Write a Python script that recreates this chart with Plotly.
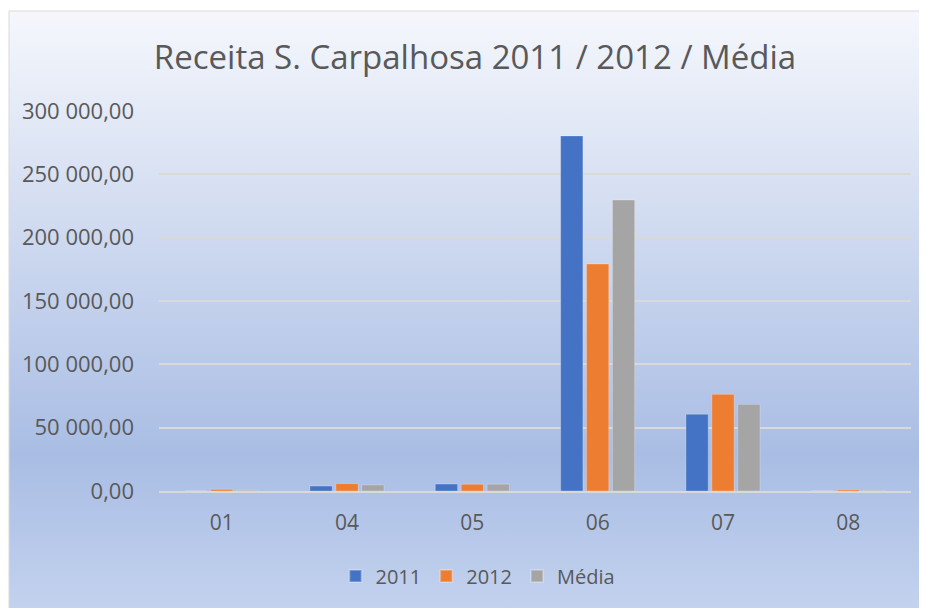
import base64
import plotly.graph_objects as go

# data
months = ["01", "04", "05", "06", "07", "08"]
receita_2011 = [0, 3900, 5500, 280300, 60600, 0]
receita_2012 = [1300, 5800, 5300, 179200, 76300, 1000]
receita_media = [650, 4850, 5400, 229700, 68400, 500]
y_ticks = [0, 50000, 100000, 150000, 200000, 250000, 300000]

colors = {'2011': '#4472C4', '2012': '#ED7D31', 'Média': '#A5A5A5'}
text_color = '#595959'
font_family = 'Open Sans, Liberation Sans, sans-serif'

# page has an 8px body margin, so the figure is shifted by 8px
W, H = 919, 600
left, right, top, bottom = 151, 16, 103, 117
plot_w = W - left - right
plot_h = H - top - bottom

# gradient background for the chart area (Excel-like)
svg = """<svg xmlns='http://www.w3.org/2000/svg' width='100' height='100' preserveAspectRatio='none'>
<defs><linearGradient id='g' x1='0' y1='0' x2='0' y2='1'>
<stop offset='0' stop-color='#f5f7fc'/>
<stop offset='0.74' stop-color='#a9bde4'/>
<stop offset='1' stop-color='#c3d2ee'/>
</linearGradient></defs>
<rect width='100' height='100' fill='url(#g)'/></svg>"""
bg_src = "data:image/svg+xml;base64," + base64.b64encode(svg.encode()).decode()

# frame in paper coords
fx0 = (1 - left) / plot_w
fx1 = (W + 3 - left) / plot_w
fy1 = (H - bottom - 3) / plot_h
fy0 = (H - bottom - (H + 3)) / plot_h

fig = go.Figure()
for name, vals in [('2011', receita_2011), ('2012', receita_2012), ('Média', receita_media)]:
    fig.add_trace(go.Bar(
        x=months, y=vals, name=name,
        marker=dict(color=colors[name], line=dict(color='rgba(255,255,255,0.25)', width=1)),
    ))

fig.add_layout_image(
    source=bg_src, xref='paper', yref='paper',
    x=fx0, y=fy1, sizex=fx1 - fx0, sizey=fy1 - fy0,
    xanchor='left', yanchor='top', sizing='stretch', layer='below'
)
fig.add_shape(type='rect', xref='paper', yref='paper',
              x0=fx0, x1=fx1, y0=fy0, y1=fy1,
              line=dict(color='#d9d9d9', width=1), layer='below')

fig.update_layout(
    width=W, height=H,
    margin=dict(l=left, r=right, t=top, b=bottom),
    paper_bgcolor='white', plot_bgcolor='rgba(0,0,0,0)',
    separators=', ',
    font=dict(family=font_family, color=text_color, size=22),
    title=dict(text='Receita S. Carpalhosa 2011 / 2012 / Média',
               x=(467 - left) / plot_w, xref='paper', xanchor='center',
               y=1 - 49 / H, yref='container', yanchor='middle',
               font=dict(size=33, color=text_color, family=font_family)),
    barmode='group', bargap=0.38, bargroupgap=0.14,
    legend=dict(orientation='h', x=(470 - left) / plot_w, xanchor='center',
                y=(H - bottom - 568) / plot_h, yanchor='middle',
                bgcolor='rgba(0,0,0,0)', font=dict(size=20, color=text_color),
                itemsizing='constant', itemwidth=30, traceorder='normal'),
    xaxis=dict(showgrid=False, showline=True, linecolor='#d9d9d9', linewidth=1.5,
               ticks='', ticklabelstandoff=12,
               tickfont=dict(size=21, color=text_color)),
    yaxis=dict(range=[0, 300000], tickvals=y_ticks, tickformat=',.2f',
               showgrid=True, gridcolor='#d9d9d9', gridwidth=1.5, zeroline=False,
               showline=False, ticks='', ticklabelstandoff=24,
               tickfont=dict(size=22, color=text_color)),
)

fig.write_html("out.html")
